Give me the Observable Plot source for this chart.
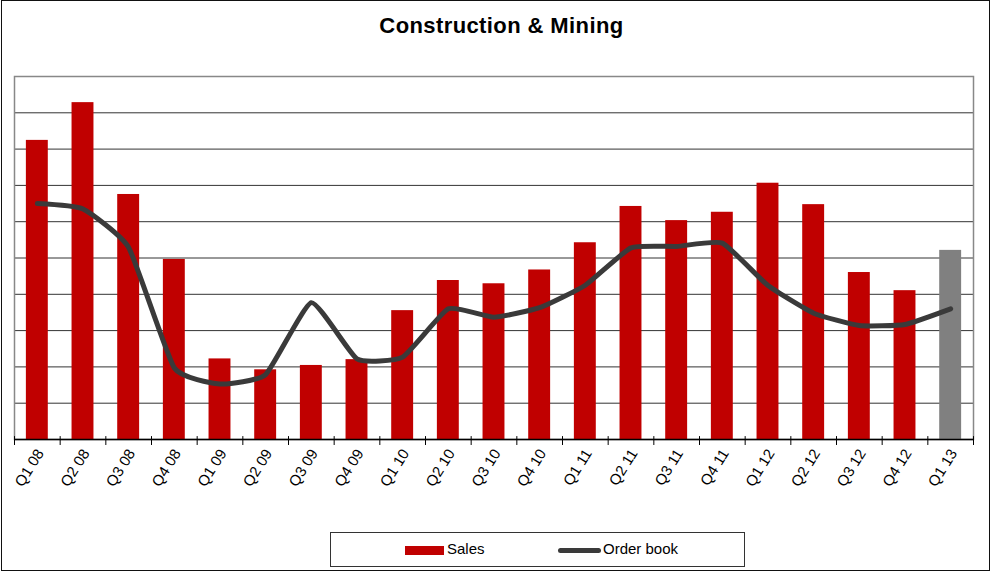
<!DOCTYPE html>
<html>
<head>
<meta charset="utf-8">
<script src="https://cdn.jsdelivr.net/npm/d3@7"></script>
<script src="https://cdn.jsdelivr.net/npm/@observablehq/plot@0.6"></script>
<style>
  html, body { margin: 0; padding: 0; background: #fff; }
  #wrap { position: relative; width: 992px; height: 574px; overflow: hidden; font-family: "Liberation Sans", Arial, sans-serif; }
  #border { position: absolute; left: 1px; top: 0px; width: 987px; height: 569px; border: 1.5px solid #111; box-sizing: content-box; }
  #title { position: absolute; left: 0; top: 13px; width: 1003px; text-align: center; font-weight: bold; font-size: 22px; letter-spacing: 0.4px; color: #000; }
  #chart { position: absolute; left: 0; top: 0; }
  #legend { position: absolute; left: 330px; top: 532px; width: 415px; height: 35px; border: 1px solid #333; box-sizing: border-box; font-size: 15px; color: #000; }
  .sw-bar { position: absolute; left: 74px; top: 13px; width: 39px; height: 9px; background: #C00000; }
  .lbl1 { position: absolute; left: 116px; top: 7px; }
  .sw-line { position: absolute; left: 227px; top: 15px; width: 43px; height: 5px; border-radius: 3px; background: #3a3a3a; }
  .lbl2 { position: absolute; left: 272px; top: 7px; }
</style>
</head>
<body>
<div id="wrap">
  <div id="chart"></div>
  <div id="border"></div>
  <div id="title">Construction &amp; Mining</div>
  <div id="legend">
    <div class="sw-bar"></div><div class="lbl1">Sales</div>
    <div class="sw-line"></div><div class="lbl2">Order book</div>
  </div>
</div>
<script>
const quarters = ["Q1 08","Q2 08","Q3 08","Q4 08","Q1 09","Q2 09","Q3 09","Q4 09","Q1 10","Q2 10","Q3 10","Q4 10","Q1 11","Q2 11","Q3 11","Q4 11","Q1 12","Q2 12","Q3 12","Q4 12","Q1 13"];
const sales = [82.4, 92.8, 67.5, 49.6, 22.2, 19.2, 20.4, 22.0, 35.5, 43.8, 42.9, 46.7, 54.2, 64.2, 60.3, 62.6, 70.6, 64.7, 46.0, 41.0, 52.1];
const orderBook = [65.0, 63.5, 52.9, 19.7, 15.3, 17.9, 37.7, 22.2, 22.7, 36.0, 33.7, 36.3, 42.5, 52.8, 53.2, 54.1, 42.4, 34.8, 31.4, 31.7, 36.0];
const isForecast = [false,false,false,false,false,false,false,false,false,false,false,false,false,false,false,false,false,false,false,false,true];
const gridValues = [10, 20, 30, 40, 50, 60, 70, 80, 90];

const data = quarters.map((q, i) => ({q, sales: sales[i], order: orderBook[i], forecast: isForecast[i]}));

const W = 992, H = 520;
const mL = 14, mR = 19, mT = 76, mB = 81;
const step = (W - mL - mR) / quarters.length;

const chart = Plot.plot({
  width: W,
  height: H,
  marginLeft: mL,
  marginRight: mR,
  marginTop: mT,
  marginBottom: mB,
  style: { fontFamily: "'Liberation Sans', Arial, sans-serif", fontSize: "15px", color: "#000", background: "transparent", overflow: "visible" },
  x: { domain: quarters, round: false, paddingInner: 0.52, paddingOuter: 0.26, label: null },
  y: { domain: [0, 100], axis: null },
  marks: [
    Plot.ruleY(gridValues, { stroke: "#333", strokeWidth: 1 }),
    Plot.frame({ stroke: "#888", strokeWidth: 1.5 }),
    Plot.barY(data, { x: "q", y: "sales", fill: d => d.forecast ? "#808080" : "#C00000" }),
    Plot.line(data, { x: "q", y: "order", stroke: "#3a3a3a", strokeWidth: 5, curve: "cardinal", tension: 0.55, strokeLinejoin: "round", strokeLinecap: "round" }),
    Plot.ruleY([0], { stroke: "#000", strokeWidth: 1.5 }),
    Plot.ruleX(data, { x: "q", y1: -1.65, y2: 0.8, dx: -step / 2, stroke: "#000", clip: false }),
    Plot.ruleX([quarters[quarters.length - 1]], { y1: -1.65, y2: 0.8, dx: step / 2, stroke: "#000", clip: false }),
    Plot.axisX({ tickSize: 0, tickPadding: 11, tickRotate: -58, dx: 3, label: null })
  ]
});
document.getElementById("chart").appendChild(chart);
</script>
</body>
</html>
